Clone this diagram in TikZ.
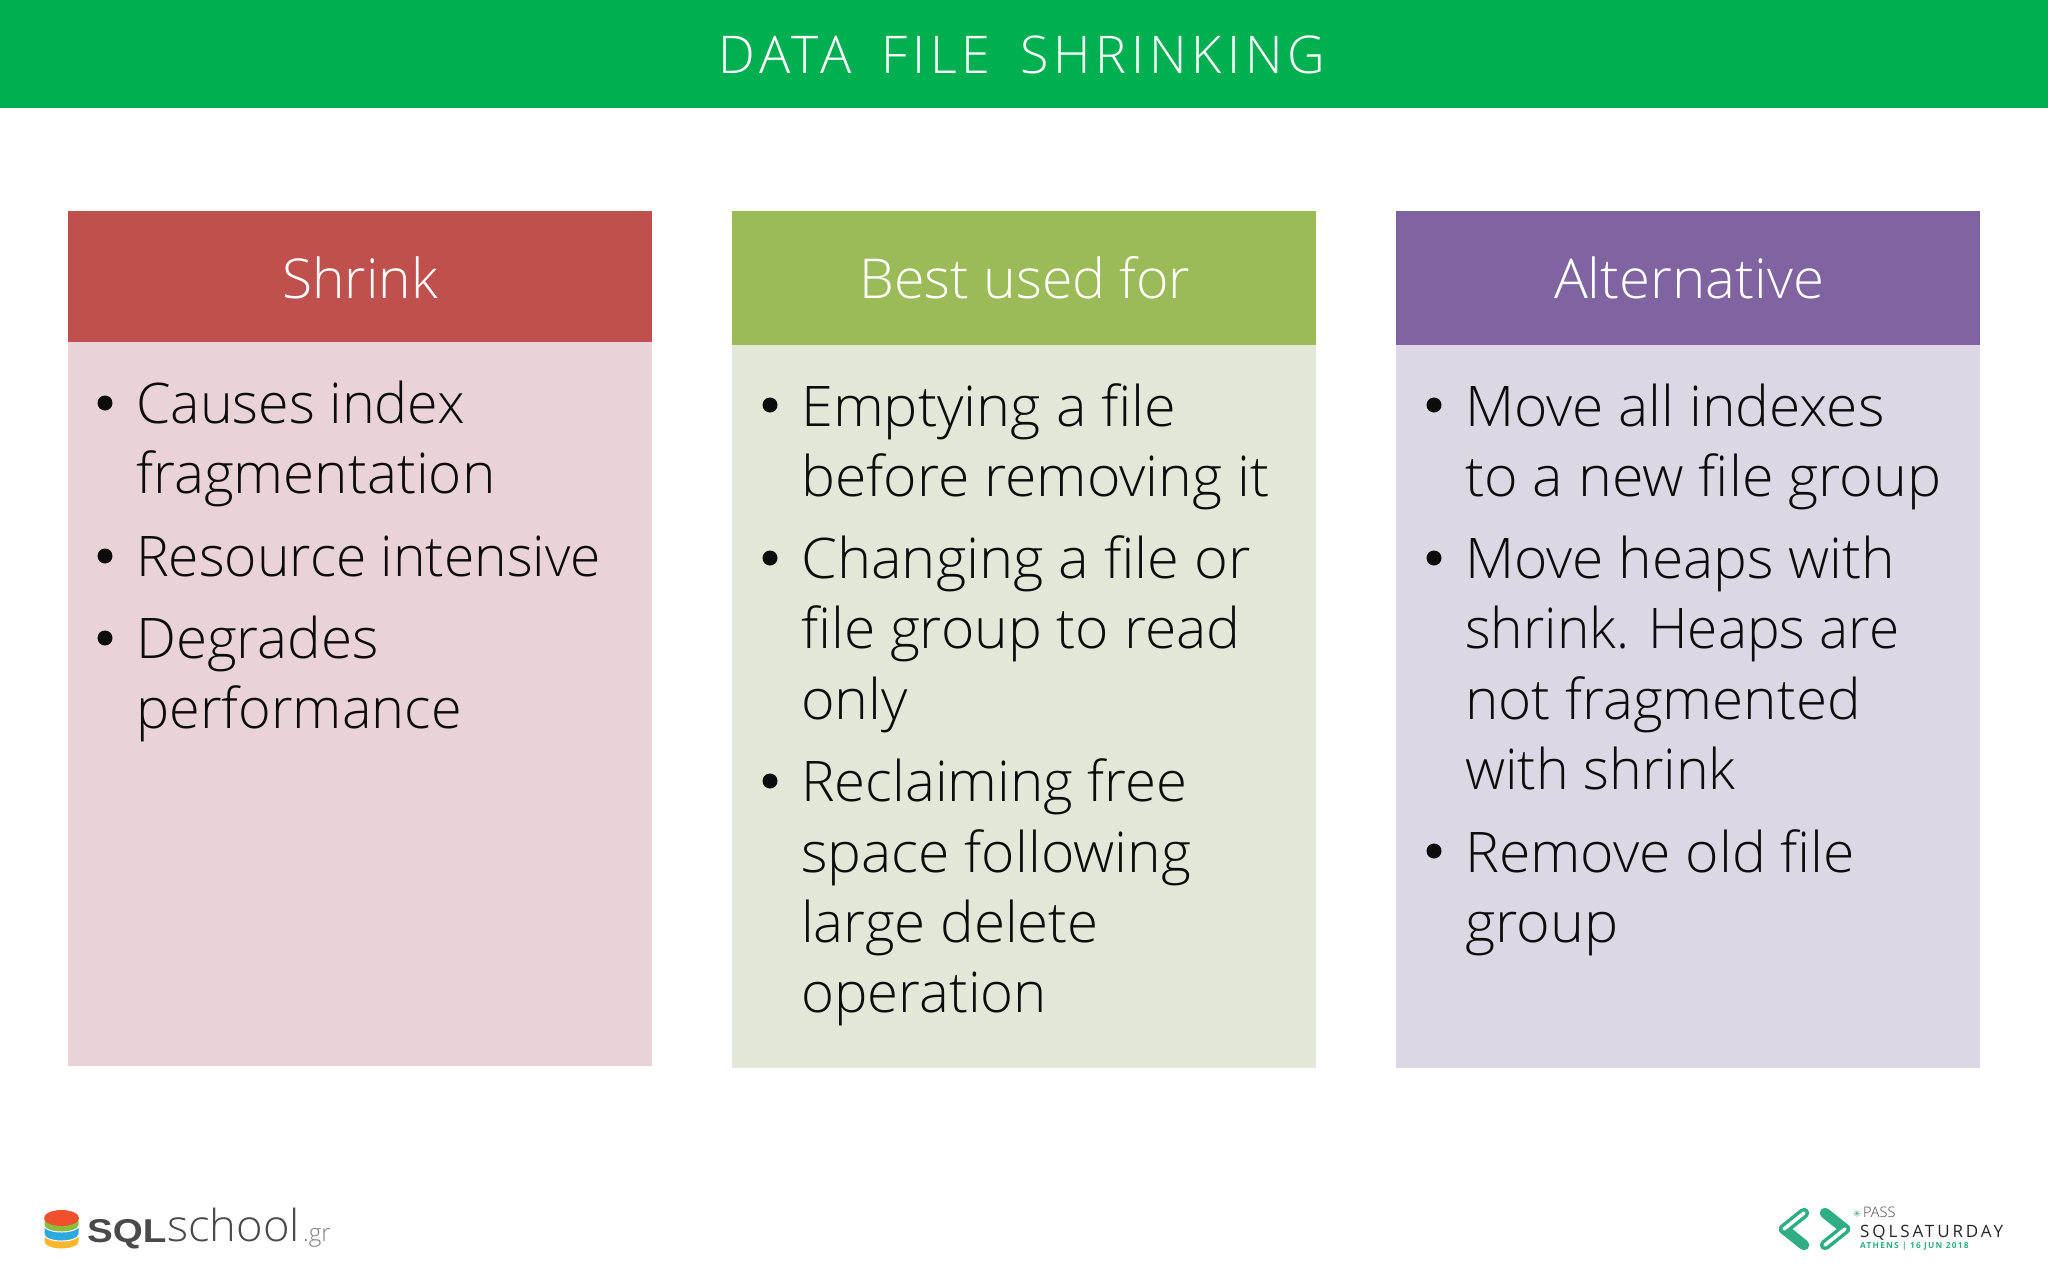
\documentclass[tikz,border=0pt]{standalone}
\usepackage{fontspec}
\setmainfont{Open Sans Light}
\newfontfamily\titlefont[LetterSpace=9.5,WordSpace=1.6]{Open Sans Light}
\newfontfamily\headfont{Open Sans Light}
\newfontfamily\logobold{Liberation Sans Bold}
\newfontfamily\logolight{Open Sans Light}
\newfontfamily\logosat[LetterSpace=17]{Open Sans}
\newfontfamily\logoath[LetterSpace=15]{Open Sans}
\newfontfamily\logosym{DejaVu Sans}
\newcommand{\sx}[2]{\scalebox{#1}[1]{#2}}
\definecolor{band}{HTML}{00B050}
\definecolor{redhead}{HTML}{C0504D}
\definecolor{greenhead}{HTML}{9BBB59}
\definecolor{purphead}{HTML}{8064A2}
\definecolor{redbody}{HTML}{EAD3D7}
\definecolor{greenbody}{HTML}{E2E7D7}
\definecolor{purpbody}{HTML}{DBD8E4}
\definecolor{inktext}{HTML}{0C0C0C}
\definecolor{logogrey}{HTML}{4A4A4A}
\definecolor{satgreen}{HTML}{2FAE85}
\definecolor{stackred}{HTML}{F0502D}
\definecolor{stackgreen}{HTML}{8DBB3C}
\definecolor{stackblue}{HTML}{2BA9E0}
\definecolor{stackyellow}{HTML}{FBB62B}
\tikzset{
  panel/.style={inner sep=0pt,outer sep=0pt,draw=none,minimum width=584pt,anchor=north west},
  headtext/.style={text=white,inner sep=0pt,anchor=base,font=\headfont\fontsize{55}{60}\selectfont},
  itemline/.style={text=inktext,inner sep=0pt,anchor=base west,font=\fontsize{56}{60}\selectfont},
  bulletdot/.style={circle,fill=inktext,inner sep=0pt,minimum size=15pt},
  logolayer/.style={draw=white,line width=1pt},
}
\begin{document}
\begin{tikzpicture}[x=1pt,y=-1pt]
\useasboundingbox (0,0) rectangle (2048,1280);
\fill[white] (0,0) rectangle (2048,1280);
\node[panel,fill=band,minimum width=2048pt,minimum height=108pt] (band) at (0,0) {};
\node[anchor=base,inner sep=0pt,text=white,font=\titlefont\fontsize{52}{60}\selectfont] (title) at (1022,73.5) {DATA FILE SHRINKING};
% panels
\node[panel,fill=redbody,minimum height=724pt] (b1) at (68,342) {};
\node[panel,fill=redhead,minimum height=131pt] (h1) at (68,211) {};
\node[panel,fill=greenbody,minimum height=723pt] (b2) at (732,345) {};
\node[panel,fill=greenhead,minimum height=134pt] (h2) at (732,211) {};
\node[panel,fill=purpbody,minimum height=723pt] (b3) at (1396,345) {};
\node[panel,fill=purphead,minimum height=134pt] (h3) at (1396,211) {};
\node[headtext] (t1) at (360,298) {Shrink};
\node[headtext] (t2) at (1025,298) {\sx{1.008}{Best used for}};
\node[headtext] (t3) at (1689,298) {\sx{1.025}{Alternative}};
% column 1
\node[bulletdot] (d11) at (105,403) {};
\node[itemline] (l11) at (136,423.5) {\sx{.992}{Causes index}};
\node[itemline] (l12) at (136,493.5) {\sx{1.011}{fragmentation}};
\node[bulletdot] (d12) at (105,556) {};
\node[itemline] (l13) at (136,576) {\sx{.985}{Resource intensive}};
\node[bulletdot] (d13) at (105,638) {};
\node[itemline] (l14) at (136,658) {\sx{1.011}{Degrades}};
\node[itemline] (l15) at (136,728) {\sx{.996}{performance}};
% column 2
\node[bulletdot] (d21) at (770,405) {};
\node[itemline] (l21) at (801,426) {\sx{1.029}{Emptying a file}};
\node[itemline] (l22) at (801,496) {\sx{1.02}{before removing it}};
\node[bulletdot] (d22) at (770,558) {};
\node[itemline] (l23) at (801,578) {\sx{1.033}{Changing a file or}};
\node[itemline] (l24) at (801,648) {\sx{1.018}{file group to read}};
\node[itemline] (l25) at (801,719) {\sx{1.025}{only}};
\node[bulletdot] (d23) at (770,781) {};
\node[itemline] (l26) at (801,801) {\sx{1.007}{Reclaiming free}};
\node[itemline] (l27) at (801,872) {\sx{1.017}{space following}};
\node[itemline] (l28) at (801,942) {\sx{1.009}{large delete}};
\node[itemline] (l29) at (801,1012) {\sx{1.005}{operation}};
% column 3
\node[bulletdot] (d31) at (1434,405) {};
\node[itemline] (l31) at (1465,426) {\sx{1.016}{Move all indexes}};
\node[itemline] (l32) at (1465,496) {\sx{1.025}{to a new file group}};
\node[bulletdot] (d32) at (1434,558) {};
\node[itemline] (l33) at (1465,578) {\sx{1.016}{Move heaps with}};
\node[itemline] (l34) at (1465,648) {\sx{.982}{shrink. Heaps are}};
\node[itemline] (l35) at (1465,719) {\sx{1.01}{not fragmented}};
\node[itemline] (l36) at (1465,789) {\sx{.99}{with shrink}};
\node[bulletdot] (d33) at (1434,851) {};
\node[itemline] (l37) at (1465,872) {\sx{1.02}{Remove old file}};
\node[itemline] (l38) at (1465,942) {\sx{1.027}{group}};
% sqlschool logo
\filldraw[logolayer,fill=stackyellow] (44,1236) -- (79,1236) -- (79,1242) arc[start angle=0,end angle=180,x radius=17.5,y radius=7] -- cycle;
\filldraw[logolayer,fill=stackblue] (44,1227) -- (79,1227) -- (79,1234) arc[start angle=0,end angle=180,x radius=17.5,y radius=7] -- cycle;
\filldraw[logolayer,fill=stackgreen] (44,1218) -- (79,1218) -- (79,1225) arc[start angle=0,end angle=180,x radius=17.5,y radius=7] -- cycle;
\fill[stackred] (61.5,1218) ellipse[x radius=17.5,y radius=8];
\node[anchor=base west,inner sep=0pt,text=logogrey,font=\logobold\fontsize{33}{33}\selectfont] (sql) at (87,1242) {\sx{1.17}{SQL}};
\node[anchor=base west,inner sep=0pt,text=logogrey,font=\logolight\fontsize{44}{44}\selectfont] (school) at (167,1241) {\sx{1.03}{school}};
\node[anchor=base west,inner sep=0pt,text=gray,font=\logolight\fontsize{24}{24}\selectfont] (gr) at (303,1241) {.gr};
% sqlsaturday logo
\coordinate (la) at (1804,1213);
\coordinate (lb) at (1784,1229);
\coordinate (lc) at (1804,1245);
\coordinate (ra) at (1825,1213);
\coordinate (rb) at (1845,1229);
\coordinate (rc) at (1825,1245);
\draw[satgreen,line width=10.5pt,line cap=round,line join=round] (la) -- (lb) -- (lc);
\draw[satgreen,line width=10.5pt,line cap=round,line join=round] (ra) -- (rb) -- (rc);
\draw[white,line width=3.5pt,line cap=round] (la) -- (lb);
\draw[white,line width=3.5pt,line cap=round] (rc) -- (rb);
\node[anchor=base,inner sep=0pt,text=satgreen!60!gray,font=\logosym\fontsize{10}{10}\selectfont] (star) at (1857,1217) {✳};
\node[anchor=base west,inner sep=0pt,text=logogrey,font=\logolight\fontsize{14.5}{15}\selectfont] (pass) at (1863,1217) {PASS};
\node[anchor=base west,inner sep=0pt,text=black!85,font=\logosat\fontsize{17}{17}\selectfont] (sat) at (1860,1237) {SQLSATURDAY};
\node[anchor=base west,inner sep=0pt,text=satgreen,font=\logoath\bfseries\fontsize{8.3}{8}\selectfont] (ath) at (1860,1248) {ATHENS | 16 JUN 2018};
\end{tikzpicture}
\end{document}
